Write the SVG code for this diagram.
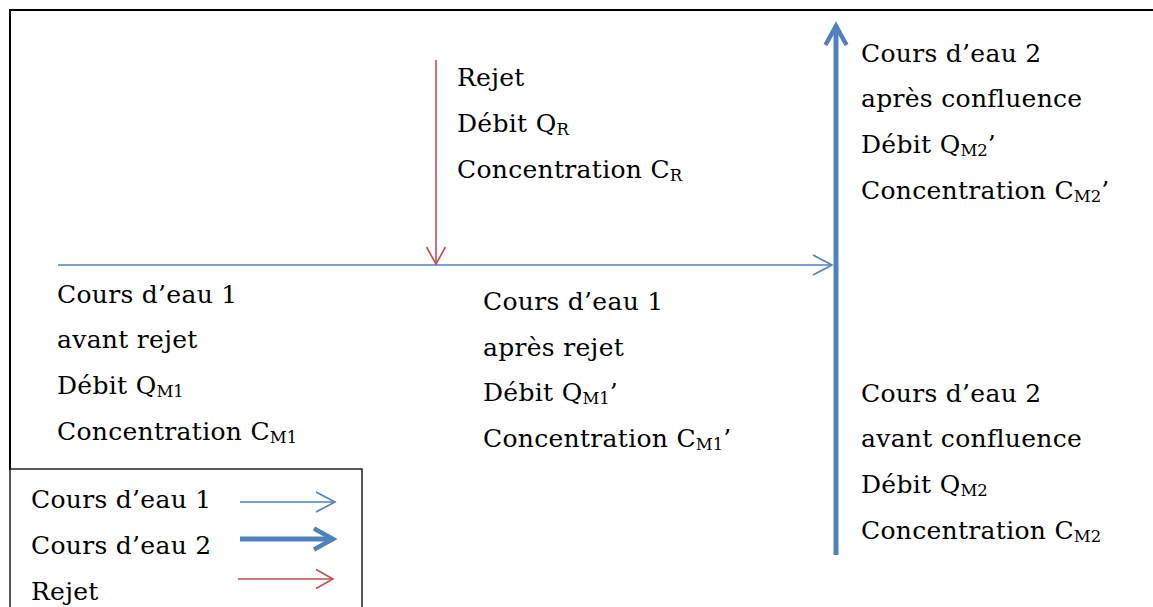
<svg xmlns="http://www.w3.org/2000/svg" width="1153" height="607" viewBox="0 0 1153 607">
<style>
text{font-family:"DejaVu Serif","Liberation Serif",serif;font-size:25px;fill:#000;letter-spacing:0.3px}
.sub{font-size:16.5px;letter-spacing:0}
.frame{fill:none;stroke:#000;stroke-width:2}
.b1{stroke:#4F81BD;stroke-width:1.6;fill:none}
.b2{stroke:#4F81BD;stroke-width:5;fill:none}
.r{stroke:#C0504D;stroke-width:1.6;fill:none}
</style>
<defs>
<marker id="m1" markerUnits="userSpaceOnUse" markerWidth="40" markerHeight="40" viewBox="-30 -20 40 40" refX="0" refY="0" orient="auto" overflow="visible"><path d="M-19,-10 L0,0 L-19,10" fill="none" stroke="#4F81BD" stroke-width="1.6"/></marker>
<marker id="m2" markerUnits="userSpaceOnUse" markerWidth="40" markerHeight="40" viewBox="-30 -20 40 40" refX="0" refY="0" orient="auto" overflow="visible"><path d="M-19,-10.5 L0,0 L-19,10.5" fill="none" stroke="#4F81BD" stroke-width="4.5"/></marker>
<marker id="m3" markerUnits="userSpaceOnUse" markerWidth="40" markerHeight="40" viewBox="-30 -20 40 40" refX="0" refY="0" orient="auto" overflow="visible"><path d="M-17,-9.5 L0,0 L-17,9.5" fill="none" stroke="#C0504D" stroke-width="1.6"/></marker>
</defs>
<g id="frame">
<path class="frame" d="M10,470 V10 H1153"/>
</g>
<g id="connectors">
<line class="b1" x1="58" y1="265" x2="832" y2="265" marker-end="url(#m1)"/>
<line class="r" x1="436" y1="60" x2="436" y2="264" marker-end="url(#m3)"/>
<line class="b2" x1="836" y1="555" x2="836" y2="26" marker-end="url(#m2)"/>
</g>
<g id="rejet">
<text x="457" y="86">Rejet</text>
<text x="457" y="132">Débit Q<tspan class="sub" dy="3">R</tspan></text>
<text x="457" y="178">Concentration C<tspan class="sub" dy="3">R</tspan></text>
</g>
<g id="cours2-apres">
<text x="861" y="62">Cours d’eau 2</text>
<text x="861" y="107">après confluence</text>
<text x="861" y="153">Débit Q<tspan class="sub" dy="3">M2</tspan><tspan dy="-3">’</tspan></text>
<text x="861" y="199">Concentration C<tspan class="sub" dy="3">M2</tspan><tspan dy="-3">’</tspan></text>
</g>
<g id="cours1-avant">
<text x="57" y="303">Cours d’eau 1</text>
<text x="57" y="348">avant rejet</text>
<text x="57" y="394">Débit Q<tspan class="sub" dy="3">M1</tspan></text>
<text x="57" y="440">Concentration C<tspan class="sub" dy="3">M1</tspan></text>
</g>
<g id="cours1-apres">
<text x="483" y="310">Cours d’eau 1</text>
<text x="483" y="356">après rejet</text>
<text x="483" y="401">Débit Q<tspan class="sub" dy="3">M1</tspan><tspan dy="-3">’</tspan></text>
<text x="483" y="447">Concentration C<tspan class="sub" dy="3">M1</tspan><tspan dy="-3">’</tspan></text>
</g>
<g id="cours2-avant">
<text x="861" y="402">Cours d’eau 2</text>
<text x="861" y="447">avant confluence</text>
<text x="861" y="493">Débit Q<tspan class="sub" dy="3">M2</tspan></text>
<text x="861" y="539">Concentration C<tspan class="sub" dy="3">M2</tspan></text>
</g>
<g id="legend">
<rect x="10" y="469" width="352" height="150" fill="#fff" stroke="#000" stroke-width="1.3"/>
<text x="31" y="508">Cours d’eau 1</text>
<text x="31" y="554">Cours d’eau 2</text>
<text x="31" y="600">Rejet</text>
<line class="b1" x1="240" y1="502" x2="335" y2="502" marker-end="url(#m1)"/>
<line class="b2" x1="240" y1="539" x2="333" y2="539" marker-end="url(#m2)"/>
<line class="r" x1="238" y1="579" x2="333" y2="579" marker-end="url(#m3)"/>
</g>
</svg>
